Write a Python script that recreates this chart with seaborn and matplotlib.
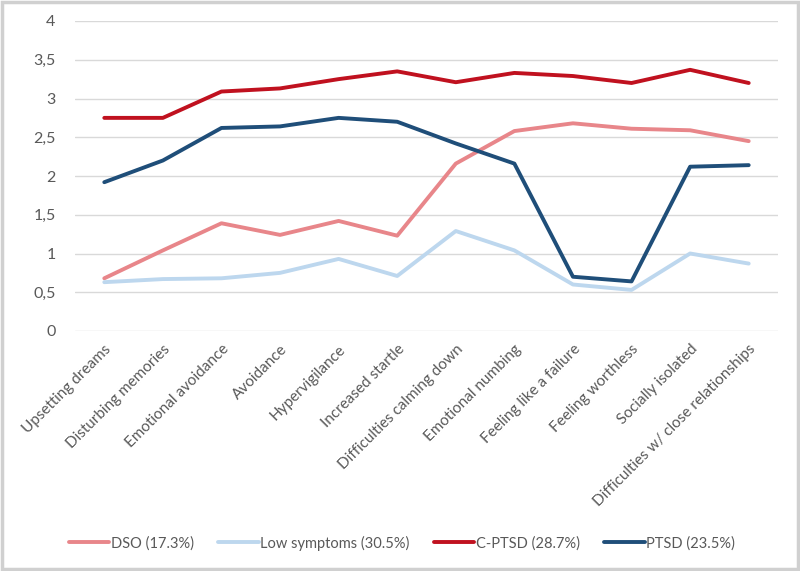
import matplotlib
matplotlib.use("Agg")
import matplotlib.pyplot as plt
import seaborn as sns
import pandas as pd
from matplotlib.ticker import FuncFormatter, MultipleLocator
from matplotlib.patches import Rectangle

categories = ["Upsetting dreams", "Disturbing memories", "Emotional avoidance", "Avoidance",
              "Hypervigilance", "Increased startle", "Difficulties calming down",
              "Emotional numbing", "Feeling like a failure", "Feeling worthless",
              "Socially isolated", "Difficulties w/ close relationships"]
dso = [0.68, 1.04, 1.39, 1.24, 1.42, 1.23, 2.16, 2.58, 2.68, 2.61, 2.59, 2.45]
low = [0.63, 0.67, 0.68, 0.75, 0.93, 0.71, 1.29, 1.04, 0.60, 0.53, 1.00, 0.87]
cptsd = [2.75, 2.75, 3.09, 3.13, 3.25, 3.35, 3.21, 3.33, 3.29, 3.20, 3.37, 3.20]
ptsd = [1.92, 2.20, 2.62, 2.64, 2.75, 2.70, 2.42, 2.16, 0.70, 0.64, 2.12, 2.14]
series_names = ["DSO (17.3%)", "Low symptoms (30.5%)", "C-PTSD (28.7%)", "PTSD (23.5%)"]
colors = ["#E8868A", "#BDD7EE", "#C0111F", "#1F4E79"]

rows = []
for name, vals in zip(series_names, [dso, low, cptsd, ptsd]):
    for i, v in enumerate(vals):
        rows.append({"idx": i, "value": v, "series": name})
df = pd.DataFrame(rows)

sns.set_theme(style="white")
plt.rcParams["font.family"] = ["Lato", "DejaVu Sans"]

fig = plt.figure(figsize=(8, 5.71), dpi=100)
ax = fig.add_axes([75 / 800, 1 - 331 / 571, 703 / 800, 310 / 571])

sns.lineplot(data=df, x="idx", y="value", hue="series", hue_order=series_names,
             palette=colors, linewidth=2.8, ax=ax, legend=True)

ax.set_xlim(-0.5, len(categories) - 0.5)
ax.set_ylim(0, 4)
ax.yaxis.set_major_locator(MultipleLocator(0.5))
ax.yaxis.set_major_formatter(FuncFormatter(lambda v, p: f"{v:g}".replace(".", ",")))
ax.grid(axis="y", color="#D9D9D9", linewidth=1)
ax.set_axisbelow(True)
for s in ax.spines.values():
    s.set_visible(False)
ax.set_xticks(range(len(categories)))
ax.set_xticklabels(categories, rotation=45, ha="right", rotation_mode="anchor",
                   fontsize=11, color="#595959")
ax.tick_params(axis="x", length=0, pad=8)
ax.tick_params(axis="y", length=0, pad=14, labelsize=11.5, labelcolor="#595959")
ax.set_xlabel("")
ax.set_ylabel("")

handles, labels = ax.get_legend_handles_labels()
ax.legend(handles, labels, loc="center", bbox_to_anchor=(402 / 800, 28 / 571),
          bbox_transform=fig.transFigure,
          ncol=4, frameon=False, fontsize=10.5, handlelength=2.75, handletextpad=0.1,
          columnspacing=1.7, labelcolor="#595959")

fig.patches.append(Rectangle((0.002, 0.003), 0.996, 0.994, transform=fig.transFigure,
                             fill=False, edgecolor="#D0D0D0", linewidth=2.5))

fig.savefig("out.png", dpi=100)
